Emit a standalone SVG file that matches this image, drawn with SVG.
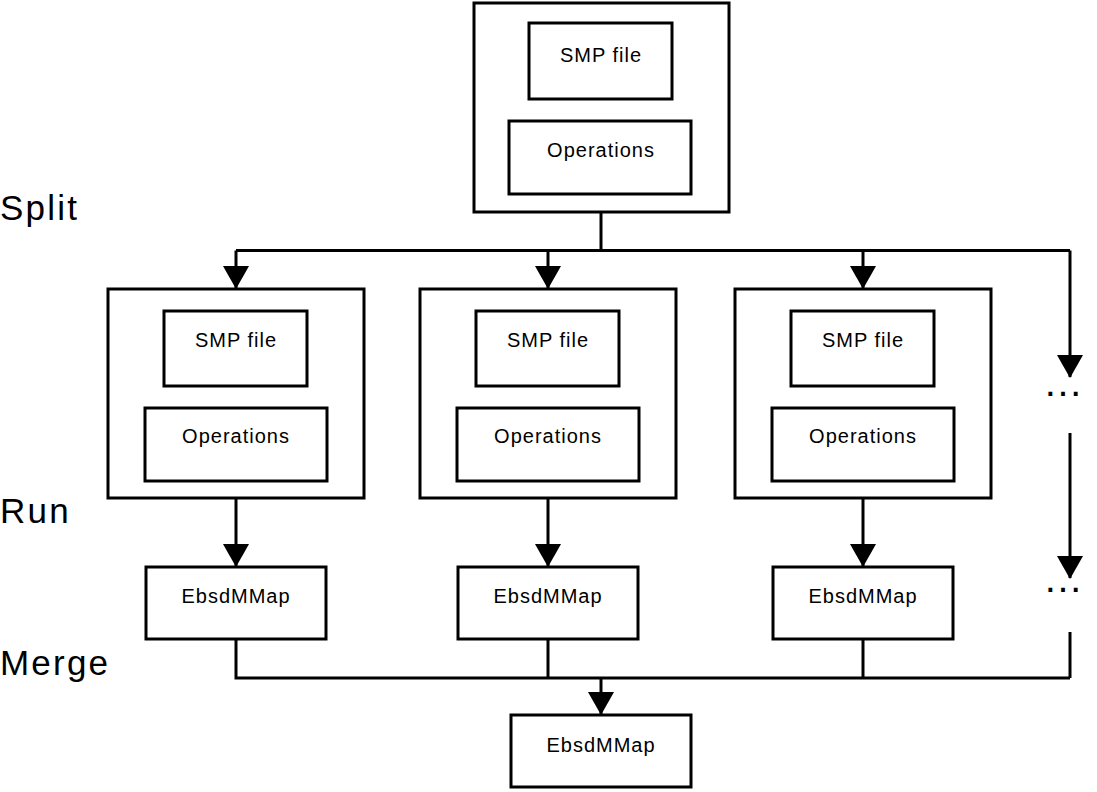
<svg xmlns="http://www.w3.org/2000/svg" width="1097" height="792" viewBox="0 0 1097 792">
<style>
.box{fill:#fff;stroke:#000;stroke-width:3}
.lbl{font-family:"Liberation Sans",Arial,sans-serif;font-size:20px;letter-spacing:1px;text-anchor:middle;fill:#000}
.stage{font-family:"Liberation Sans",Arial,sans-serif;font-size:35px;letter-spacing:2.2px;fill:#000}
.dots{font-family:"Liberation Sans",Arial,sans-serif;font-size:40px;text-anchor:middle;fill:#000}
.c{fill:none;stroke:#000;stroke-width:3}
.a{fill:none;stroke:#000;stroke-width:3;marker-end:url(#ah)}
</style>
<defs>
<marker id="ah" viewBox="0 0 23 26" refX="22" refY="13" markerWidth="23" markerHeight="26" markerUnits="userSpaceOnUse" orient="auto">
<path d="M0,0 L23,13 L0,26 z" fill="#000"/>
</marker>
</defs>
<rect width="1097" height="792" fill="#fff"/>
<text class="stage" x="0" y="220">Split</text>
<text class="stage" x="0" y="523">Run</text>
<text class="stage" x="0" y="675">Merge</text>
<g id="connectors">
<path class="c" d="M601,212 V250.5"/>
<path class="c" d="M236,250.5 H1070"/>
<path class="a" d="M236,250.5 V288"/>
<path class="a" d="M548,250.5 V288"/>
<path class="a" d="M863,250.5 V288"/>
<path class="a" d="M1070,250.5 V377"/>
<path class="a" d="M1070,433 V578"/>
<path class="c" d="M1070,632 V678"/>
<path class="a" d="M236,498 V566"/>
<path class="a" d="M548,498 V566"/>
<path class="a" d="M863,498 V566"/>
<path class="c" d="M236,640 V678 H1070"/>
<path class="c" d="M548,640 V678"/>
<path class="c" d="M863,640 V678"/>
<path class="a" d="M601,678 V714"/>
<text class="dots" x="1063" y="396">…</text>
<text class="dots" x="1063" y="592">…</text>
</g>
<g id="source">
<rect class="box" x="474" y="3" width="255" height="209"/>
<rect class="box" x="529" y="23" width="143" height="76"/>
<text class="lbl" x="601" y="62">SMP file</text>
<rect class="box" x="509" y="121" width="182" height="73"/>
<text class="lbl" x="601" y="157">Operations</text>
</g>
<g id="job1">
<rect class="box" x="108" y="289" width="256" height="209"/>
<rect class="box" x="164" y="311" width="143" height="75"/>
<text class="lbl" x="236" y="347">SMP file</text>
<rect class="box" x="145" y="408" width="182" height="73"/>
<text class="lbl" x="236" y="443">Operations</text>
</g>
<g id="job2">
<rect class="box" x="420" y="289" width="256" height="209"/>
<rect class="box" x="476" y="311" width="143" height="75"/>
<text class="lbl" x="548" y="347">SMP file</text>
<rect class="box" x="457" y="408" width="182" height="73"/>
<text class="lbl" x="548" y="443">Operations</text>
</g>
<g id="job3">
<rect class="box" x="735" y="289" width="256" height="209"/>
<rect class="box" x="791" y="311" width="143" height="75"/>
<text class="lbl" x="863" y="347">SMP file</text>
<rect class="box" x="772" y="408" width="182" height="73"/>
<text class="lbl" x="863" y="443">Operations</text>
</g>
<g id="map1">
<rect class="box" x="146" y="567" width="180" height="72"/>
<text class="lbl" x="236" y="603">EbsdMMap</text>
</g>
<g id="map2">
<rect class="box" x="458" y="567" width="180" height="72"/>
<text class="lbl" x="548" y="603">EbsdMMap</text>
</g>
<g id="map3">
<rect class="box" x="773" y="567" width="180" height="72"/>
<text class="lbl" x="863" y="603">EbsdMMap</text>
</g>
<g id="merged">
<rect class="box" x="511" y="715" width="180" height="72"/>
<text class="lbl" x="601" y="752">EbsdMMap</text>
</g>
</svg>
